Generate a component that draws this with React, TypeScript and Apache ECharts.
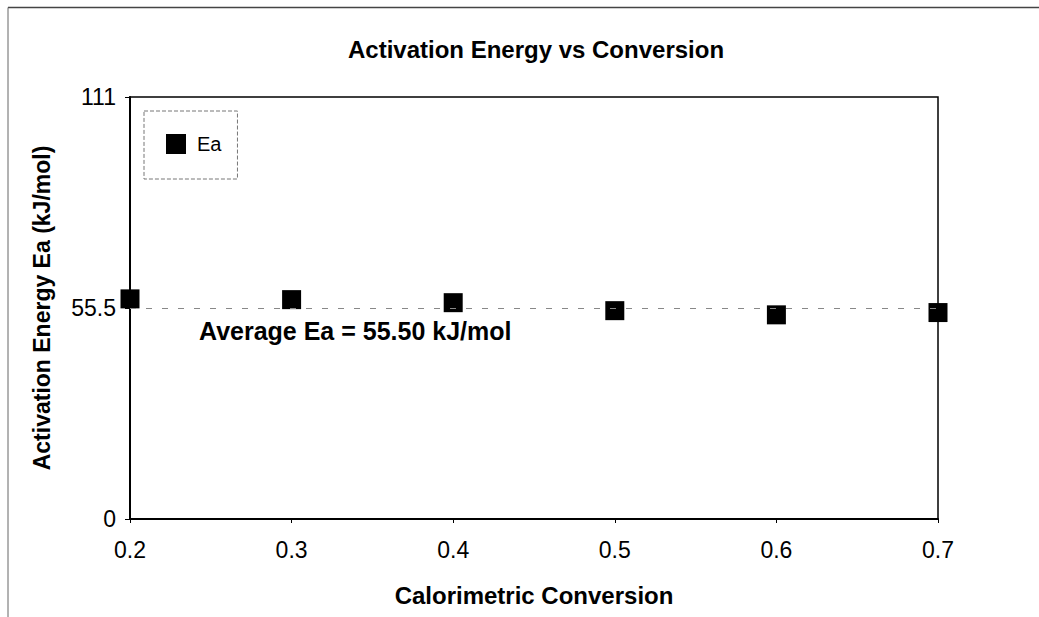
import React, { useEffect, useRef } from "react";
import * as echarts from "echarts";

const conversion = [0.2, 0.3, 0.4, 0.5, 0.6, 0.7];
const eaValues = [57.9, 57.7, 56.9, 54.8, 53.7, 54.3];
const averageEa = 55.5;
const yTicks = [0, 55.5, 111];
const title = "Activation Energy vs Conversion";
const xName = "Calorimetric Conversion";
const yName = "Activation Energy Ea (kJ/mol)";
const avgLabel = "Average Ea = 55.50 kJ/mol";

const FONT = "'Liberation Sans', Arial, sans-serif";

export default function App() {
  const ref = useRef<HTMLDivElement>(null);
  useEffect(() => {
    if (!ref.current) return;
    const chart = echarts.init(ref.current, undefined, { renderer: "svg" });
    const tickLabelStyle = {
      fontFamily: FONT,
      fontSize: 23,
      color: "#000",
    };
    chart.setOption({
      animation: false,
      backgroundColor: "#fff",
      textStyle: { fontFamily: FONT },
      title: {
        text: title,
        left: 531,
        top: 32,
        textAlign: "center",
        textStyle: { fontFamily: FONT, fontSize: 24, fontWeight: "bold", color: "#000" },
      },
      legend: {
        left: 144,
        top: 111,
        orient: "vertical",
        icon: "rect",
        itemWidth: 20,
        itemHeight: 20,
        padding: [23, 16, 25, 22],
        borderColor: "#777",
        borderWidth: 1,
        borderType: "dashed",
        textStyle: { fontFamily: FONT, fontSize: 20, color: "#000", padding: [0, 0, 0, 6] },
        data: [{ name: "Ea", itemStyle: { color: "#000", opacity: 1 } }],
      },
      grid: {
        left: 130,
        right: 101,
        top: 97,
        bottom: 98,
        show: true,
        borderColor: "#000",
        borderWidth: 1.5,
        containLabel: false,
      },
      xAxis: {
        type: "value",
        min: 0.2,
        max: 0.7,
        interval: 0.1,
        name: xName,
        nameLocation: "middle",
        nameGap: 64,
        nameTextStyle: { fontFamily: FONT, fontSize: 24, fontWeight: "bold", color: "#000" },
        axisLine: { show: true, lineStyle: { color: "#000", width: 2 } },
        axisTick: { show: true, length: 4, lineStyle: { color: "#000" } },
        splitLine: { show: false },
        axisLabel: {
          ...tickLabelStyle,
          margin: 19,
          formatter: (v: number) => v.toFixed(1),
        },
      },
      yAxis: {
        type: "value",
        min: 0,
        max: 111,
        interval: 55.5,
        name: yName,
        nameLocation: "middle",
        nameGap: 77,
        nameRotate: 90,
        nameTextStyle: { fontFamily: FONT, fontSize: 23, fontWeight: "bold", color: "#000" },
        axisLine: { show: true, lineStyle: { color: "#000", width: 2 } },
        axisTick: { show: true, length: 5, lineStyle: { color: "#000" } },
        splitLine: { show: false },
        axisLabel: {
          ...tickLabelStyle,
          margin: 14,
          formatter: (v: number) => (yTicks.includes(v) ? String(v) : ""),
        },
      },
      series: [
        {
          name: "Ea",
          type: "scatter",
          symbol: "rect",
          symbolSize: 19,
          itemStyle: { color: "#000", opacity: 1 },
          data: conversion.map((x, i) => [x, eaValues[i]]),
          markLine: {
            silent: true,
            symbol: "none",
            lineStyle: { color: "#888", type: [6, 10], width: 1 },
            label: { show: false },
            data: [{ yAxis: averageEa }],
          },
        },
      ],
      graphic: [
        {
          type: "line",
          shape: { x1: 8, y1: 7.5, x2: 1039, y2: 7.5 },
          style: { stroke: "#444", lineWidth: 1.5 },
        },
        {
          type: "line",
          shape: { x1: 8, y1: 7.5, x2: 8, y2: 617 },
          style: { stroke: "#666", lineWidth: 1 },
        },
        {
          type: "text",
          left: 199,
          top: 318,
          style: {
            text: avgLabel,
            fontFamily: FONT,
            fontSize: 25,
            fontWeight: "bold",
            fill: "#000",
          },
        },
      ],
    });
    return () => chart.dispose();
  }, []);
  return (
    <div
      ref={ref}
      style={{ position: "absolute", left: 0, top: 0, width: 1039, height: 617 }}
    />
  );
}
